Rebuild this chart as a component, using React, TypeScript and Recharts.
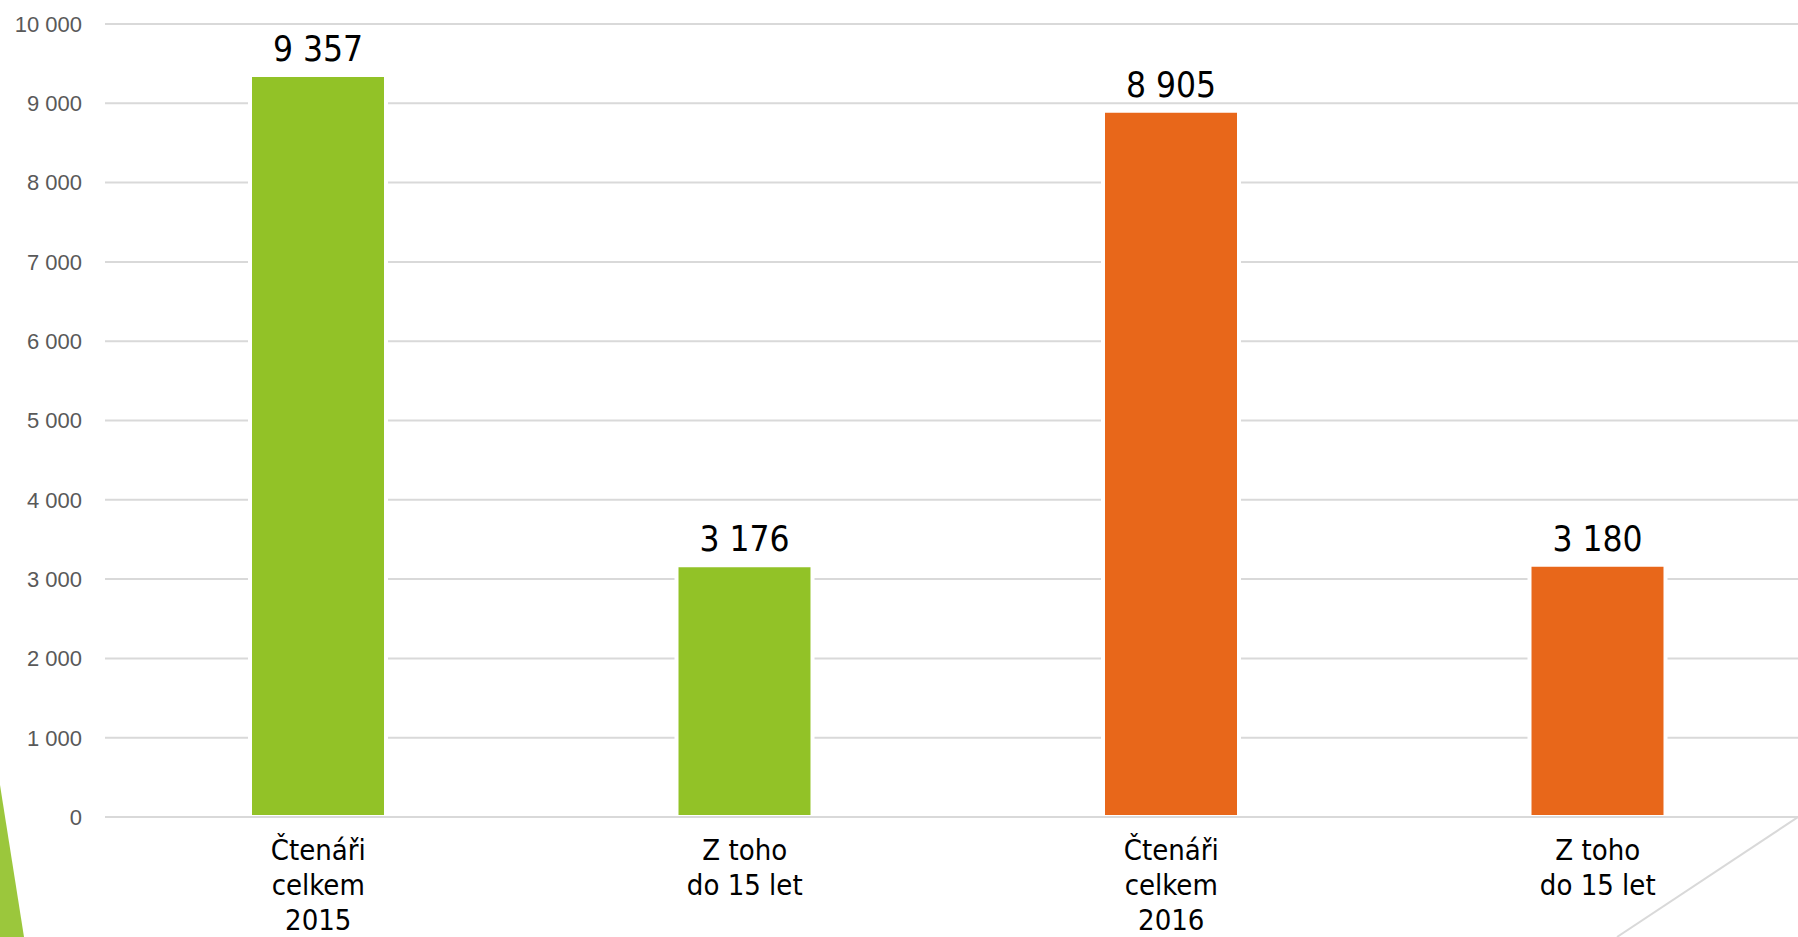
import React from "react";
import { BarChart, Bar, XAxis, YAxis, CartesianGrid, Cell, LabelList } from "recharts";

const categories = ["Čtenáři\ncelkem\n2015", "Z toho\ndo 15 let", "Čtenáři\ncelkem\n2016", "Z toho\ndo 15 let"];
const values = [9357, 3176, 8905, 3180];
const barColors = ["#92C227", "#92C227", "#E8671A", "#E8671A"];
const yTicks = [0, 1000, 2000, 3000, 4000, 5000, 6000, 7000, 8000, 9000, 10000];

const data = categories.map((c, i) => ({ name: c, value: values[i] }));

const fmt = (v: number) => String(v).replace(/\B(?=(\d{3})+(?!\d))/g, " ");

const CatTick = (props: any) => {
  const { x, y, payload } = props;
  const lines = String(payload.value).split("\n");
  return (
    <text
      x={x}
      y={y}
      textAnchor="middle"
      fill="#000"
      style={{ fontFamily: "DejaVu Sans Condensed, DejaVu Sans", fontSize: 29 }}
    >
      {lines.map((l, i) => (
        <tspan key={i} x={x} dy={i === 0 ? 43 : 35}>
          {l}
        </tspan>
      ))}
    </text>
  );
};

export default function App() {
  return (
    <div style={{ position: "absolute", left: 0, top: 0, width: 1798, height: 937, overflow: "hidden", background: "#fff" }}>
      <BarChart
        width={1811}
        height={937}
        data={data}
        margin={{ top: 24, right: 0, bottom: 0, left: 0 }}
      >
        <CartesianGrid vertical={false} stroke="#D9D9D9" strokeWidth={2} />
        <XAxis
          dataKey="name"
          height={120}
          axisLine={{ stroke: "#D9D9D9", strokeWidth: 2 }}
          tickLine={false}
          tickSize={0}
          tickMargin={0}
          tick={<CatTick />}
          interval={0}
        />
        <YAxis
          width={105}
          domain={[0, 10000]}
          ticks={yTicks}
          axisLine={false}
          tickLine={false}
          tickSize={0}
          tickMargin={23}
          tickFormatter={fmt}
          tick={{ fill: "#595959", fontSize: 22, fontFamily: "Liberation Sans, Arial" }}
        />
        <Bar dataKey="value" barSize={136} stroke="#fff" strokeWidth={4} isAnimationActive={false}>
          {data.map((d, i) => (
            <Cell key={i} fill={barColors[i]} />
          ))}
          <LabelList
            dataKey="value"
            position="top"
            offset={14}
            formatter={(v: any) => fmt(Number(v))}
            style={{ fill: "#000", fontSize: 35, fontFamily: "DejaVu Sans Condensed, DejaVu Sans", stroke: "none" }}
          />
        </Bar>
      </BarChart>
      <svg width={1798} height={937} style={{ position: "absolute", left: 0, top: 0, pointerEvents: "none" }}>
        <polygon points="0,785 24,937 0,937" fill="#9BC73C" />
        <line x1={1798} y1={817} x2={1617} y2={937} stroke="#D9D9D9" strokeWidth={2} />
      </svg>
    </div>
  );
}
